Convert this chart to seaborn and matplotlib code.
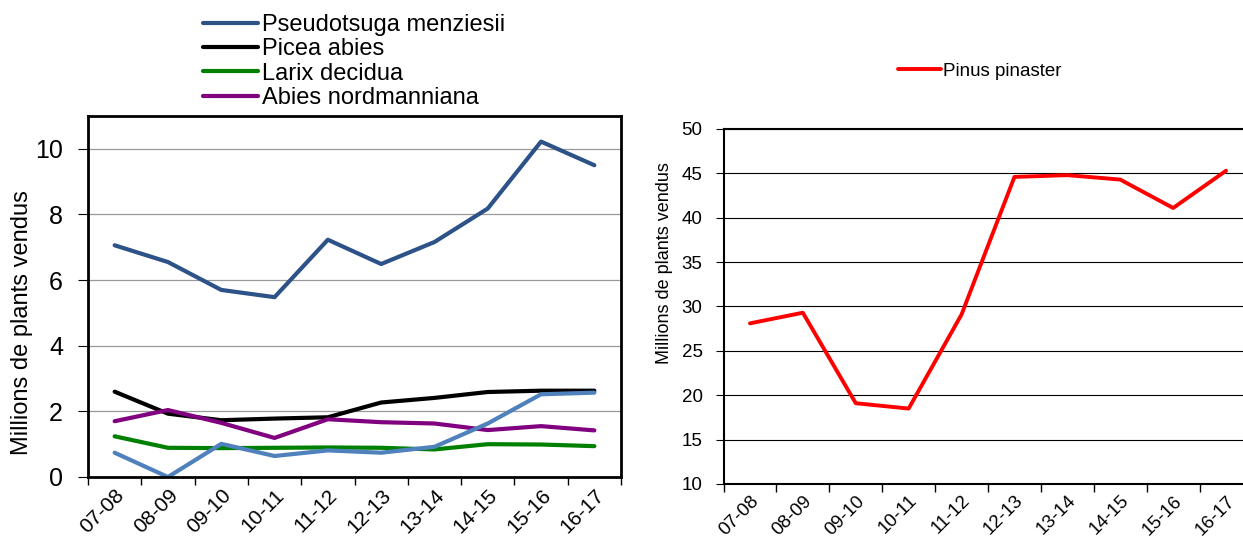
import pandas as pd
import seaborn as sns
import matplotlib.pyplot as plt

seasons = ["07-08", "08-09", "09-10", "10-11", "11-12",
           "12-13", "13-14", "14-15", "15-16", "16-17"]

pseudotsuga = [7.06, 6.55, 5.70, 5.48, 7.23, 6.49, 7.16, 8.18, 10.22, 9.50]
picea = [2.60, 1.93, 1.73, 1.78, 1.82, 2.27, 2.41, 2.59, 2.63, 2.63]
larix = [1.24, 0.89, 0.88, 0.89, 0.90, 0.89, 0.84, 1.00, 0.99, 0.94]
abies = [1.70, 2.04, 1.65, 1.19, 1.76, 1.67, 1.63, 1.43, 1.55, 1.42]
other = [0.74, 0.00, 1.01, 0.64, 0.81, 0.74, 0.92, 1.63, 2.52, 2.57]
pinus = [28.1, 29.3, 19.1, 18.5, 29.1, 44.6, 44.8, 44.3, 41.1, 45.3]

left_series = [
    ("Pseudotsuga menziesii", pseudotsuga, "#2C5288"),
    ("Picea abies", picea, "#000000"),
    ("Larix decidua", larix, "#008000"),
    ("Abies nordmanniana", abies, "#800080"),
    ("_other", other, "#4F81BD"),
]

sns.set_style("white")
plt.rcParams["font.family"] = ["Liberation Sans", "DejaVu Sans"]
plt.rcParams.update({"text.color": "black", "axes.labelcolor": "black",
                     "xtick.color": "black", "ytick.color": "black"})

fig = plt.figure(figsize=(12.43, 5.40), dpi=100)
ax1 = fig.add_axes([88 / 1243, 1 - 477 / 540, 533 / 1243, 361 / 540])
ax2 = fig.add_axes([723.5 / 1243, 1 - 484 / 540, 529 / 1243, 355 / 540])


def category_axis(ax, fs, pad):
    ax.set_xlim(-0.5, len(seasons) - 0.5)
    ax.set_xticks([i - 0.5 for i in range(len(seasons) + 1)])
    ax.set_xticklabels([])
    ax.set_xticks(range(len(seasons)), minor=True)
    ax.set_xticklabels(seasons, minor=True, rotation=45, ha="right",
                       rotation_mode="anchor", fontsize=fs)
    ax.tick_params(axis="x", which="major", direction="out", length=6,
                   width=1, color="black", bottom=True)
    ax.tick_params(axis="x", which="minor", length=0, pad=pad)
    ax.set_xlabel("")


# left panel
for name, vals, col in left_series:
    df = pd.DataFrame({"season": seasons, "value": vals})
    sns.lineplot(data=df, x="season", y="value", color=col, lw=3,
                 sort=False, ax=ax1, label=name)

ax1.set_ylim(0, 11)
ax1.set_yticks(range(0, 11, 2))
ax1.tick_params(axis="y", labelsize=18, direction="out", length=7,
                left=True, color="black", pad=11)
ax1.yaxis.grid(True, color="#999999", lw=0.9)
ax1.set_axisbelow(True)
ax1.set_ylabel("Millions de plants vendus", fontsize=17)
ax1.yaxis.set_label_coords(-0.103, 0.427)
category_axis(ax1, 15, 6)
for s in ax1.spines.values():
    s.set_color("black")
    s.set_linewidth(2)
ax1.legend(loc="upper left", bbox_to_anchor=(203 / 1243, 1 - 14 / 540),
           bbox_transform=fig.transFigure, frameon=False, fontsize=17,
           borderpad=0, borderaxespad=0, handletextpad=0.15,
           handlelength=2.35, labelspacing=0.1)

# right panel
dfp = pd.DataFrame({"season": seasons, "value": pinus})
sns.lineplot(data=dfp, x="season", y="value", color="#FF0000", lw=2.8,
             sort=False, ax=ax2, label="Pinus pinaster")
ax2.set_ylim(10, 50)
ax2.set_yticks(range(10, 51, 5))
ax2.tick_params(axis="y", labelsize=13.5, direction="out", length=6,
                left=True, color="black", pad=9)
ax2.yaxis.grid(True, color="black", lw=0.8)
ax2.set_axisbelow(True)
ax2.set_ylabel("Millions de plants vendus", fontsize=13)
ax2.yaxis.set_label_coords(-0.0955, 0.623)
category_axis(ax2, 13.5, 6)
for s in ax2.spines.values():
    s.set_color("black")
    s.set_linewidth(1.5)
ax2.legend(loc="center left", bbox_to_anchor=(898 / 1243, 1 - 71 / 540),
           bbox_transform=fig.transFigure, frameon=False, fontsize=13.5,
           borderpad=0, borderaxespad=0, handletextpad=0.1,
           handlelength=2.3)

fig.savefig("out.png", dpi=100)
